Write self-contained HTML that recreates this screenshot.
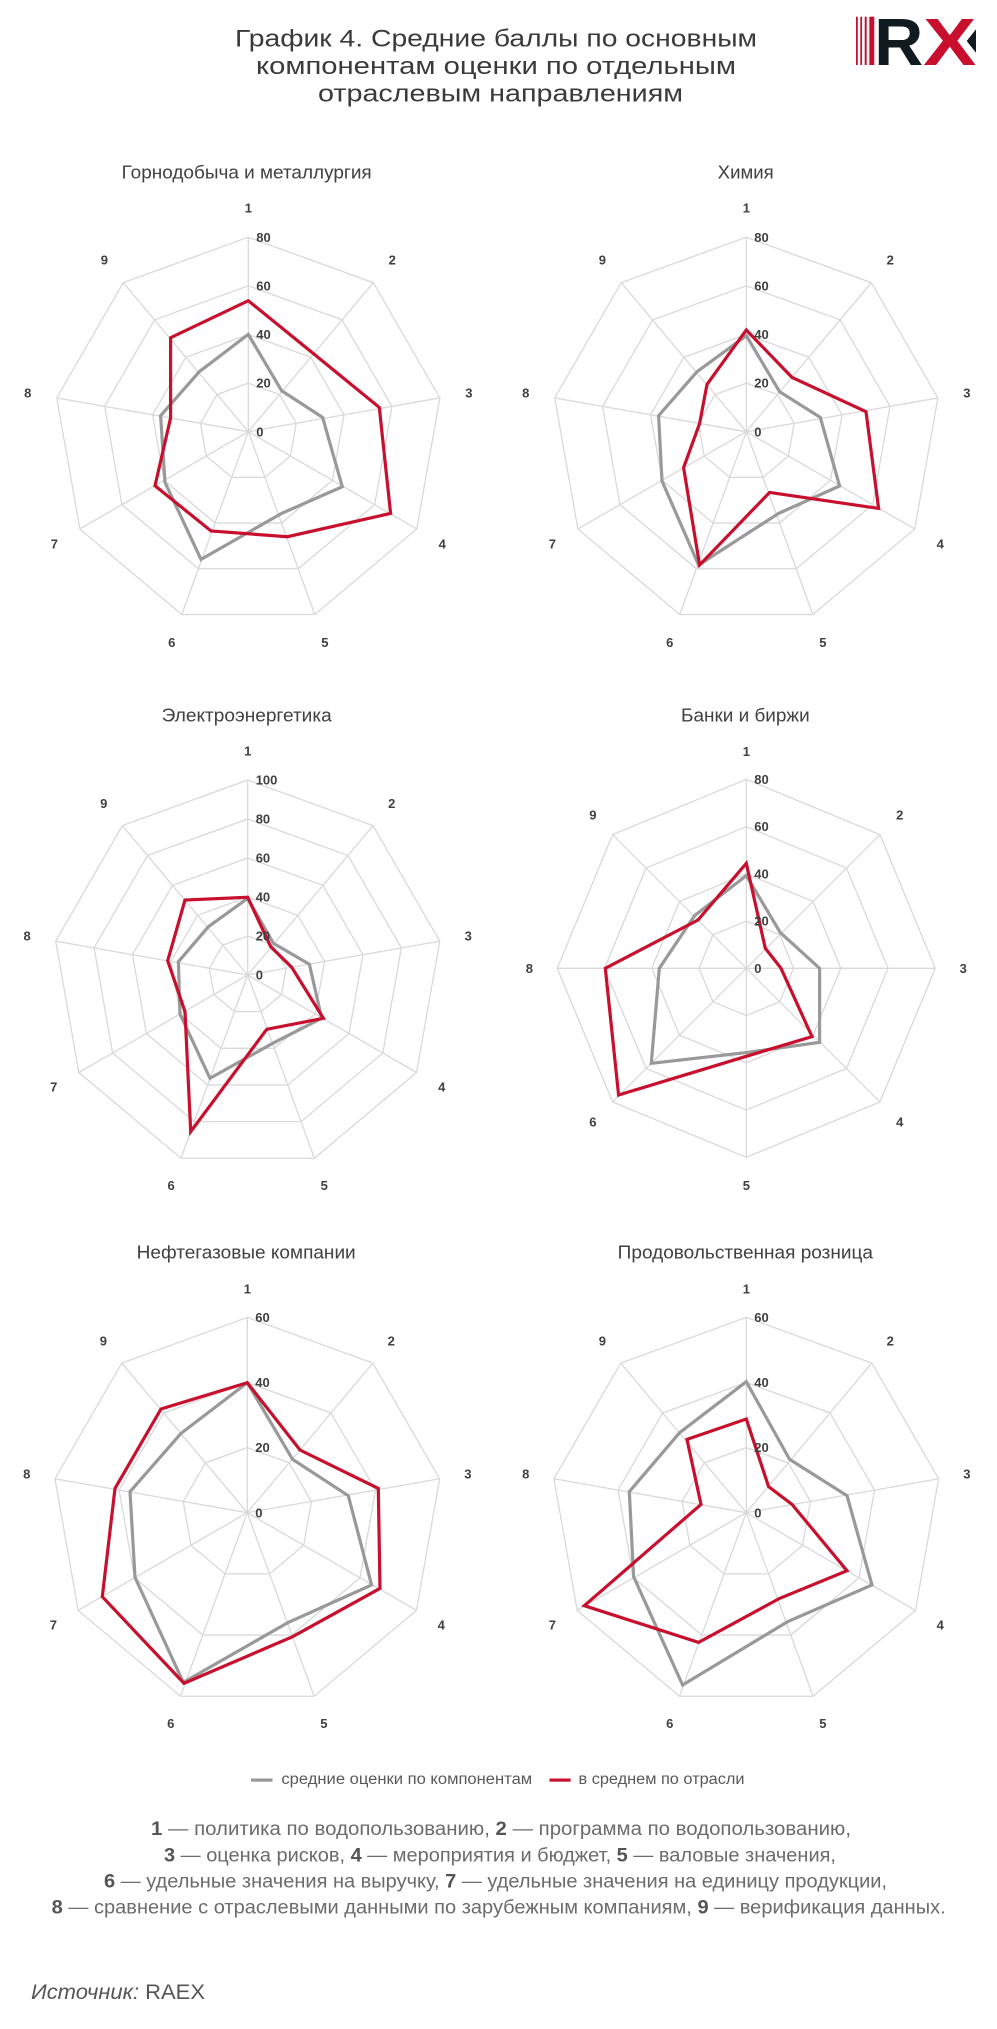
<!DOCTYPE html>
<html><head><meta charset="utf-8"><style>
html,body{margin:0;padding:0;background:#fff;}
svg{display:block;}
text{font-family:"Liberation Sans",Arial,sans-serif;}
.g{fill:none;stroke:#d9d9d9;stroke-width:1.3;}
.gr{fill:none;stroke:#999;stroke-width:3.2;stroke-linejoin:miter;}
.rd{fill:none;stroke:#c8102e;stroke-width:3.2;stroke-linejoin:miter;}
.ax{font-size:13px;font-weight:bold;fill:#404040;text-anchor:middle;}
.tk{font-size:13px;font-weight:bold;fill:#404040;}
.ct{font-size:18.5px;fill:#404040;}
</style></head><body>
<svg width="997" height="2029" viewBox="0 0 997 2029" xmlns="http://www.w3.org/2000/svg">
<rect width="997" height="2029" fill="#fff"/>

<!-- Title -->
<text x="235" y="46.7" font-size="24.5" fill="#3a3a3a" textLength="522" lengthAdjust="spacingAndGlyphs">График 4. Средние баллы по основным</text>
<text x="256" y="74" font-size="24.5" fill="#3a3a3a" textLength="480" lengthAdjust="spacingAndGlyphs">компонентам оценки по отдельным</text>
<text x="318" y="101.5" font-size="24.5" fill="#3a3a3a" textLength="365" lengthAdjust="spacingAndGlyphs">отраслевым направлениям</text>

<!-- Logo -->
<rect x="856" y="16.7" width="1.8" height="48.3" fill="#c8102e"/>
<rect x="860.3" y="16.7" width="1.8" height="48.3" fill="#c8102e"/>
<rect x="864.7" y="16.7" width="2" height="48.3" fill="#c8102e"/>
<rect x="869.3" y="16.7" width="5" height="48.3" fill="#c8102e"/>
<text x="874.3" y="65" font-size="67" font-weight="bold" fill="#111a1f" textLength="49" lengthAdjust="spacingAndGlyphs">R</text>
<text x="923.3" y="65" font-size="67" font-weight="bold" fill="#c8102e" textLength="53" lengthAdjust="spacingAndGlyphs">X</text>
<polygon points="976,29.3 966.7,41 976,52.7" fill="#111a1f"/>

<!-- Chart titles -->
<text class="ct" x="121.7" y="178.3" textLength="250" lengthAdjust="spacingAndGlyphs">Горнодобыча и металлургия</text>
<text class="ct" x="717.7" y="178.3" textLength="56" lengthAdjust="spacingAndGlyphs">Химия</text>
<text class="ct" x="161.7" y="721.7" textLength="170" lengthAdjust="spacingAndGlyphs">Электроэнергетика</text>
<text class="ct" x="681" y="721.7" textLength="128.7" lengthAdjust="spacingAndGlyphs">Банки и биржи</text>
<text class="ct" x="136.7" y="1258.3" textLength="219" lengthAdjust="spacingAndGlyphs">Нефтегазовые компании</text>
<text class="ct" x="617.7" y="1258.3" textLength="255.3" lengthAdjust="spacingAndGlyphs">Продовольственная розница</text>

<!-- Chart 1 -->
<g transform="translate(248.3,431.7)">
<g class="g">
<polygon transform="scale(48.6)" vector-effect="non-scaling-stroke" points="0,-1 0.6428,-0.766 0.9848,-0.1736 0.866,0.5 0.342,0.9397 -0.342,0.9397 -0.866,0.5 -0.9848,-0.1736 -0.6428,-0.766"/>
<polygon transform="scale(97.2)" vector-effect="non-scaling-stroke" points="0,-1 0.6428,-0.766 0.9848,-0.1736 0.866,0.5 0.342,0.9397 -0.342,0.9397 -0.866,0.5 -0.9848,-0.1736 -0.6428,-0.766"/>
<polygon transform="scale(145.9)" vector-effect="non-scaling-stroke" points="0,-1 0.6428,-0.766 0.9848,-0.1736 0.866,0.5 0.342,0.9397 -0.342,0.9397 -0.866,0.5 -0.9848,-0.1736 -0.6428,-0.766"/>
<polygon transform="scale(194.5)" vector-effect="non-scaling-stroke" points="0,-1 0.6428,-0.766 0.9848,-0.1736 0.866,0.5 0.342,0.9397 -0.342,0.9397 -0.866,0.5 -0.9848,-0.1736 -0.6428,-0.766"/>
<path transform="scale(194.5)" vector-effect="non-scaling-stroke" d="M0,0L0,-1M0,0L0.6428,-0.766M0,0L0.9848,-0.1736M0,0L0.866,0.5M0,0L0.342,0.9397M0,0L-0.342,0.9397M0,0L-0.866,0.5M0,0L-0.9848,-0.1736M0,0L-0.6428,-0.766"/>
</g>
<polygon class="gr" points="0,-97.3 33.3,-41 74.3,-14.3 94,55 33.3,81.7 -47.3,127.7 -83.3,50.7 -87.7,-16 -49,-60"/>
<polygon class="rd" points="0,-131 65.3,-77.9 131,-24.3 142.3,81.7 39,105 -37.3,99.3 -93.3,54 -77.7,-13.7 -77.7,-94"/>
<text class="tk" x="8" y="4.6">0</text><text class="tk" x="8" y="-44">20</text><text class="tk" x="8" y="-92.6">40</text><text class="tk" x="8" y="-141.3">60</text><text class="tk" x="8" y="-189.9">80</text>
<text class="ax" x="0" y="-219.4">1</text><text class="ax" x="144" y="-167">2</text><text class="ax" x="220.6" y="-34.3">3</text><text class="ax" x="194" y="116.6">4</text><text class="ax" x="76.6" y="215.1">5</text><text class="ax" x="-76.6" y="215.1">6</text><text class="ax" x="-194" y="116.6">7</text><text class="ax" x="-220.6" y="-34.3">8</text><text class="ax" x="-144" y="-167">9</text>
</g>

<!-- Chart 2 -->
<g transform="translate(746.3,431.7)">
<g class="g">
<polygon transform="scale(48.6)" vector-effect="non-scaling-stroke" points="0,-1 0.6428,-0.766 0.9848,-0.1736 0.866,0.5 0.342,0.9397 -0.342,0.9397 -0.866,0.5 -0.9848,-0.1736 -0.6428,-0.766"/>
<polygon transform="scale(97.2)" vector-effect="non-scaling-stroke" points="0,-1 0.6428,-0.766 0.9848,-0.1736 0.866,0.5 0.342,0.9397 -0.342,0.9397 -0.866,0.5 -0.9848,-0.1736 -0.6428,-0.766"/>
<polygon transform="scale(145.9)" vector-effect="non-scaling-stroke" points="0,-1 0.6428,-0.766 0.9848,-0.1736 0.866,0.5 0.342,0.9397 -0.342,0.9397 -0.866,0.5 -0.9848,-0.1736 -0.6428,-0.766"/>
<polygon transform="scale(194.5)" vector-effect="non-scaling-stroke" points="0,-1 0.6428,-0.766 0.9848,-0.1736 0.866,0.5 0.342,0.9397 -0.342,0.9397 -0.866,0.5 -0.9848,-0.1736 -0.6428,-0.766"/>
<path transform="scale(194.5)" vector-effect="non-scaling-stroke" d="M0,0L0,-1M0,0L0.6428,-0.766M0,0L0.9848,-0.1736M0,0L0.866,0.5M0,0L0.342,0.9397M0,0L-0.342,0.9397M0,0L-0.866,0.5M0,0L-0.9848,-0.1736M0,0L-0.6428,-0.766"/>
</g>
<polygon class="gr" points="0,-96 33.3,-40 74,-14.3 93.3,54.3 32.3,81.7 -47.7,133.3 -84.3,49.3 -87.7,-16 -49.3,-60"/>
<polygon class="rd" points="0,-101.7 45.7,-54.3 119.7,-20 132.3,76.7 23.3,60.7 -46.7,133.3 -62.7,36 -46.7,-8.2 -39.3,-47.3"/>
<text class="tk" x="8" y="4.6">0</text><text class="tk" x="8" y="-44">20</text><text class="tk" x="8" y="-92.6">40</text><text class="tk" x="8" y="-141.3">60</text><text class="tk" x="8" y="-189.9">80</text>
<text class="ax" x="0" y="-219.4">1</text><text class="ax" x="144" y="-167">2</text><text class="ax" x="220.6" y="-34.3">3</text><text class="ax" x="194" y="116.6">4</text><text class="ax" x="76.6" y="215.1">5</text><text class="ax" x="-76.6" y="215.1">6</text><text class="ax" x="-194" y="116.6">7</text><text class="ax" x="-220.6" y="-34.3">8</text><text class="ax" x="-144" y="-167">9</text>
</g>

<!-- Chart 3 -->
<g transform="translate(247.7,975)">
<g class="g">
<polygon transform="scale(39)" vector-effect="non-scaling-stroke" points="0,-1 0.6428,-0.766 0.9848,-0.1736 0.866,0.5 0.342,0.9397 -0.342,0.9397 -0.866,0.5 -0.9848,-0.1736 -0.6428,-0.766"/>
<polygon transform="scale(78)" vector-effect="non-scaling-stroke" points="0,-1 0.6428,-0.766 0.9848,-0.1736 0.866,0.5 0.342,0.9397 -0.342,0.9397 -0.866,0.5 -0.9848,-0.1736 -0.6428,-0.766"/>
<polygon transform="scale(117)" vector-effect="non-scaling-stroke" points="0,-1 0.6428,-0.766 0.9848,-0.1736 0.866,0.5 0.342,0.9397 -0.342,0.9397 -0.866,0.5 -0.9848,-0.1736 -0.6428,-0.766"/>
<polygon transform="scale(156)" vector-effect="non-scaling-stroke" points="0,-1 0.6428,-0.766 0.9848,-0.1736 0.866,0.5 0.342,0.9397 -0.342,0.9397 -0.866,0.5 -0.9848,-0.1736 -0.6428,-0.766"/>
<polygon transform="scale(195)" vector-effect="non-scaling-stroke" points="0,-1 0.6428,-0.766 0.9848,-0.1736 0.866,0.5 0.342,0.9397 -0.342,0.9397 -0.866,0.5 -0.9848,-0.1736 -0.6428,-0.766"/>
<path transform="scale(195)" vector-effect="non-scaling-stroke" d="M0,0L0,-1M0,0L0.6428,-0.766M0,0L0.9848,-0.1736M0,0L0.866,0.5M0,0L0.342,0.9397M0,0L-0.342,0.9397M0,0L-0.866,0.5M0,0L-0.9848,-0.1736M0,0L-0.6428,-0.766"/>
</g>
<polygon class="gr" points="0,-76.7 25.7,-31.7 61.7,-10.7 74,43.3 25,68.3 -37.7,103.3 -67.7,39 -69.3,-13.3 -39.3,-48.3"/>
<polygon class="rd" points="0,-77.7 23,-28.3 44,-7.7 75.7,43.3 19,54.3 -57,156.7 -62.7,36.7 -80,-14.3 -62.7,-75"/>
<text class="tk" x="8" y="4.6">0</text><text class="tk" x="8" y="-34.4">20</text><text class="tk" x="8" y="-73.4">40</text><text class="tk" x="8" y="-112.4">60</text><text class="tk" x="8" y="-151.4">80</text><text class="tk" x="8" y="-190.4">100</text>
<text class="ax" x="0" y="-219.4">1</text><text class="ax" x="144" y="-167">2</text><text class="ax" x="220.6" y="-34.3">3</text><text class="ax" x="194" y="116.6">4</text><text class="ax" x="76.6" y="215.1">5</text><text class="ax" x="-76.6" y="215.1">6</text><text class="ax" x="-194" y="116.6">7</text><text class="ax" x="-220.6" y="-34.3">8</text><text class="ax" x="-144" y="-167">9</text>
</g>

<!-- Chart 4 (8 axes) -->
<g transform="translate(746.3,968.3)">
<g class="g">
<polygon transform="scale(47.25)" vector-effect="non-scaling-stroke" points="0,-1 0.7071,-0.7071 1,0 0.7071,0.7071 0,1 -0.7071,0.7071 -1,0 -0.7071,-0.7071"/>
<polygon transform="scale(94.5)" vector-effect="non-scaling-stroke" points="0,-1 0.7071,-0.7071 1,0 0.7071,0.7071 0,1 -0.7071,0.7071 -1,0 -0.7071,-0.7071"/>
<polygon transform="scale(141.75)" vector-effect="non-scaling-stroke" points="0,-1 0.7071,-0.7071 1,0 0.7071,0.7071 0,1 -0.7071,0.7071 -1,0 -0.7071,-0.7071"/>
<polygon transform="scale(189)" vector-effect="non-scaling-stroke" points="0,-1 0.7071,-0.7071 1,0 0.7071,0.7071 0,1 -0.7071,0.7071 -1,0 -0.7071,-0.7071"/>
<path transform="scale(189)" vector-effect="non-scaling-stroke" d="M0,0L0,-1M0,0L0.7071,-0.7071M0,0L1,0M0,0L0.7071,0.7071M0,0L0,1M0,0L-0.7071,0.7071M0,0L-1,0M0,0L-0.7071,-0.7071"/>
</g>
<polygon class="gr" points="0,-92.7 34,-35.7 73.3,0 73.3,74 0,84.3 -95,95 -87,0 -51.7,-52.7"/>
<polygon class="rd" points="0,-105 19,-20 34.7,0 65.7,68.3 0,88 -127.7,126.7 -141,0 -48.3,-48.3"/>
<text class="tk" x="8" y="4.6">0</text><text class="tk" x="8" y="-42.6">20</text><text class="tk" x="8" y="-89.9">40</text><text class="tk" x="8" y="-137.1">60</text><text class="tk" x="8" y="-184.4">80</text>
<text class="ax" x="0" y="-212.4">1</text><text class="ax" x="153.4" y="-148.8">2</text><text class="ax" x="217" y="4.6">3</text><text class="ax" x="153.4" y="158">4</text><text class="ax" x="0" y="221.6">5</text><text class="ax" x="-153.4" y="158">6</text><text class="ax" x="-217" y="4.6">8</text><text class="ax" x="-153.4" y="-148.8">9</text>
</g>

<!-- Chart 5 -->
<g transform="translate(247.3,1512.7)">
<g class="g">
<polygon transform="scale(65.1)" vector-effect="non-scaling-stroke" points="0,-1 0.6428,-0.766 0.9848,-0.1736 0.866,0.5 0.342,0.9397 -0.342,0.9397 -0.866,0.5 -0.9848,-0.1736 -0.6428,-0.766"/>
<polygon transform="scale(130.2)" vector-effect="non-scaling-stroke" points="0,-1 0.6428,-0.766 0.9848,-0.1736 0.866,0.5 0.342,0.9397 -0.342,0.9397 -0.866,0.5 -0.9848,-0.1736 -0.6428,-0.766"/>
<polygon transform="scale(195.3)" vector-effect="non-scaling-stroke" points="0,-1 0.6428,-0.766 0.9848,-0.1736 0.866,0.5 0.342,0.9397 -0.342,0.9397 -0.866,0.5 -0.9848,-0.1736 -0.6428,-0.766"/>
<path transform="scale(195.3)" vector-effect="non-scaling-stroke" d="M0,0L0,-1M0,0L0.6428,-0.766M0,0L0.9848,-0.1736M0,0L0.866,0.5M0,0L0.342,0.9397M0,0L-0.342,0.9397M0,0L-0.866,0.5M0,0L-0.9848,-0.1736M0,0L-0.6428,-0.766"/>
</g>
<polygon class="gr" points="0,-130 45.3,-53.3 101,-17 124.3,72.3 41,109.7 -64,169.7 -112.3,64.7 -117.3,-21 -66.3,-79.3"/>
<polygon class="rd" points="0,-130 52.7,-62.7 131,-24.3 132.7,75.7 45.3,124 -63.3,170.7 -145,84 -132.3,-24.3 -86.3,-103.7"/>
<text class="tk" x="8" y="4.6">0</text><text class="tk" x="8" y="-60.5">20</text><text class="tk" x="8" y="-125.6">40</text><text class="tk" x="8" y="-190.7">60</text>
<text class="ax" x="0" y="-219.4">1</text><text class="ax" x="144" y="-167">2</text><text class="ax" x="220.6" y="-34.3">3</text><text class="ax" x="194" y="116.6">4</text><text class="ax" x="76.6" y="215.1">5</text><text class="ax" x="-76.6" y="215.1">6</text><text class="ax" x="-194" y="116.6">7</text><text class="ax" x="-220.6" y="-34.3">8</text><text class="ax" x="-144" y="-167">9</text>
</g>

<!-- Chart 6 -->
<g transform="translate(746.3,1512.7)">
<g class="g">
<polygon transform="scale(65.1)" vector-effect="non-scaling-stroke" points="0,-1 0.6428,-0.766 0.9848,-0.1736 0.866,0.5 0.342,0.9397 -0.342,0.9397 -0.866,0.5 -0.9848,-0.1736 -0.6428,-0.766"/>
<polygon transform="scale(130.2)" vector-effect="non-scaling-stroke" points="0,-1 0.6428,-0.766 0.9848,-0.1736 0.866,0.5 0.342,0.9397 -0.342,0.9397 -0.866,0.5 -0.9848,-0.1736 -0.6428,-0.766"/>
<polygon transform="scale(195.3)" vector-effect="non-scaling-stroke" points="0,-1 0.6428,-0.766 0.9848,-0.1736 0.866,0.5 0.342,0.9397 -0.342,0.9397 -0.866,0.5 -0.9848,-0.1736 -0.6428,-0.766"/>
<path transform="scale(195.3)" vector-effect="non-scaling-stroke" d="M0,0L0,-1M0,0L0.6428,-0.766M0,0L0.9848,-0.1736M0,0L0.866,0.5M0,0L0.342,0.9397M0,0L-0.342,0.9397M0,0L-0.866,0.5M0,0L-0.9848,-0.1736M0,0L-0.6428,-0.766"/>
</g>
<polygon class="gr" points="0,-131 43.3,-53.3 100.7,-17 125.7,72.3 41.3,109 -63.7,172.3 -112.7,64 -117,-21 -66.7,-80"/>
<polygon class="rd" points="0,-93.7 22.3,-26 45.7,-8.3 100.7,58 33.3,85.7 -47.7,129.7 -162,93 -45.3,-8.3 -59.3,-73.3"/>
<text class="tk" x="8" y="4.6">0</text><text class="tk" x="8" y="-60.5">20</text><text class="tk" x="8" y="-125.6">40</text><text class="tk" x="8" y="-190.7">60</text>
<text class="ax" x="0" y="-219.4">1</text><text class="ax" x="144" y="-167">2</text><text class="ax" x="220.6" y="-34.3">3</text><text class="ax" x="194" y="116.6">4</text><text class="ax" x="76.6" y="215.1">5</text><text class="ax" x="-76.6" y="215.1">6</text><text class="ax" x="-194" y="116.6">7</text><text class="ax" x="-220.6" y="-34.3">8</text><text class="ax" x="-144" y="-167">9</text>
</g>

<!-- Legend -->
<rect x="251" y="1778.5" width="21.5" height="3.2" fill="#999"/>
<text x="281.4" y="1784" font-size="15.5" fill="#595959" textLength="250.8" lengthAdjust="spacingAndGlyphs">средние оценки по компонентам</text>
<rect x="549.5" y="1778.5" width="21.1" height="3.2" fill="#c8102e"/>
<text x="578.5" y="1784" font-size="15.5" fill="#595959" textLength="166" lengthAdjust="spacingAndGlyphs">в среднем по отрасли</text>

<!-- Footnotes -->
<g font-size="19" fill="#6b6b6b">
<text x="151" y="1835" textLength="700" lengthAdjust="spacingAndGlyphs"><tspan font-weight="bold" fill="#555">1</tspan> — политика по водопользованию, <tspan font-weight="bold" fill="#555">2</tspan> — программа по водопользованию,</text>
<text x="164" y="1861.5" textLength="672" lengthAdjust="spacingAndGlyphs"><tspan font-weight="bold" fill="#555">3</tspan> — оценка рисков, <tspan font-weight="bold" fill="#555">4</tspan> — мероприятия и бюджет, <tspan font-weight="bold" fill="#555">5</tspan> — валовые значения,</text>
<text x="104" y="1887.5" textLength="783" lengthAdjust="spacingAndGlyphs"><tspan font-weight="bold" fill="#555">6</tspan> — удельные значения на выручку, <tspan font-weight="bold" fill="#555">7</tspan> — удельные значения на единицу продукции,</text>
<text x="51.7" y="1913.5" textLength="894" lengthAdjust="spacingAndGlyphs"><tspan font-weight="bold" fill="#555">8</tspan> — сравнение с отраслевыми данными по зарубежным компаниям, <tspan font-weight="bold" fill="#555">9</tspan> — верификация данных.</text>
</g>

<!-- Source -->
<text x="31" y="1999" font-size="21" fill="#555" textLength="174" lengthAdjust="spacingAndGlyphs"><tspan font-style="italic">Источник:</tspan> RAEX</text>
</svg>
</body></html>
